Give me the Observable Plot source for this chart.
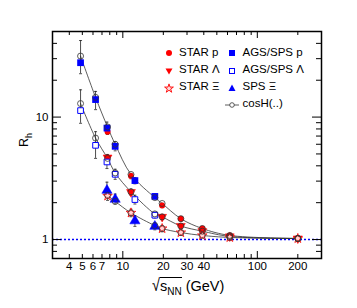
<!DOCTYPE html>
<html>
<head>
<meta charset="utf-8">
<script src="https://cdn.jsdelivr.net/npm/d3@7"></script>
<script src="https://cdn.jsdelivr.net/npm/@observablehq/plot@0.6"></script>
<style>
  body { margin: 0; background: #fff; font-family: "Liberation Sans", Arial, sans-serif; }
  #wrap { position: relative; width: 357px; height: 308px; }
  .lab { position: absolute; font-size: 11.5px; color: #000; white-space: nowrap; line-height: 1; }
  .sym { position: absolute; }
</style>
</head>
<body>
<div id="wrap"></div>
<script>
// ---- data ----
const starE = [7.7, 11.5, 19.6, 27, 39, 62.4, 200];
const starP = [7.6, 3.3, 1.90, 1.48, 1.23, 1.08, 1.02];
const starL = [4.67, 2.44, 1.53, 1.29, 1.17, 1.06, 1.02];
const starX = [2.27, 1.65, 1.23, 1.14, 1.08, 1.04, 1.02];
const starPErr = [0.05, 0.05, 0.04, 0.04, 0.03, 0.03, 0.02];
const starLErr = [0.06, 0.06, 0.05, 0.04, 0.04, 0.03, 0.02];
const starXErr = [0.08, 0.07, 0.06, 0.05, 0.04, 0.03, 0.02];

const agsE = [4.85, 6.27, 7.62, 8.77, 12.3, 17.3];
const agsP = [27.8, 13.9, 8.13, 5.77, 3.03, 2.25];
const agsPLo = [22.6, 11.5, 7.3, 5.3, 2.85, 2.15];
const agsPHi = [42.2, 16.2, 9.1, 6.3, 3.2, 2.35];
const agsL = [11.3, 5.88, 4.30, 3.41, 2.12, 1.58];
const agsLLo = [8.9, 4.6, 3.8, 3.1, 1.95, 1.5];
const agsLHi = [16.7, 7.6, 4.9, 3.75, 2.3, 1.67];
const spsXE = [7.62, 8.77, 12.3, 17.3];
const spsX = [2.52, 2.13, 1.42, 1.28];
const spsXLo = [2.23, 1.95, 1.28, 1.2];
const spsXHi = [2.94, 2.35, 1.56, 1.36];

const coshE = [4.85, 6.27, 7.7, 8.77, 11.5, 17.3, 19.6, 27, 39, 62.4, 200];
const coshP = [31.5, 14.5, 8.3, 6.0, 3.4, 2.2, 1.97, 1.48, 1.23, 1.08, 1.02];
const coshL = [12.9, 6.74, 4.6, 3.5, 2.45, 1.62, 1.53, 1.29, 1.17, 1.06, 1.02];
const coshXE = [7.7, 8.77, 11.5, 17.3, 19.6, 27, 39, 62.4, 200];
const coshX = [2.3, 2.05, 1.65, 1.3, 1.23, 1.14, 1.08, 1.04, 1.02];

const xTickLabels = [4, 5, 6, 7, 10, 20, 30, 40, 100, 200];
const xMajor = [10, 100];
const xMinor = [4, 5, 6, 7, 8, 9, 20, 30, 40, 50, 60, 70, 80, 90, 200];
const yTickLabels = [1, 10];
const yMajor = [1, 10];
const yMinor = [0.8, 0.9, 2, 3, 4, 5, 6, 7, 8, 9, 20, 30, 40];

// ---- build tables ----
const zip = (xs, ys, extra) => xs.map((x, i) => Object.assign({x, y: ys[i]}, extra ? extra(i) : {}));
const tStarP = zip(starE, starP, i => ({lo: starP[i]*(1-starPErr[i]), hi: starP[i]*(1+starPErr[i])}));
const tStarL = zip(starE, starL, i => ({lo: starL[i]*(1-starLErr[i]), hi: starL[i]*(1+starLErr[i])}));
const tStarX = zip(starE, starX, i => ({lo: starX[i]*(1-starXErr[i]), hi: starX[i]*(1+starXErr[i])}));
const tAgsP = zip(agsE, agsP, i => ({lo: agsPLo[i], hi: agsPHi[i]}));
const tAgsL = zip(agsE, agsL, i => ({lo: agsLLo[i], hi: agsLHi[i]}));
const tSpsX = zip(spsXE, spsX, i => ({lo: spsXLo[i], hi: spsXHi[i]}));
const tCoshP = zip(coshE, coshP);
const tCoshL = zip(coshE, coshL);
const tCoshX = zip(coshXE, coshX);
const allErr = [...tStarP, ...tStarL, ...tStarX, ...tAgsP, ...tAgsL, ...tSpsX];

const W = 357, H = 308, mL = 52, mR = 36, mT = 31, mB = 50;
const fw = W - mL - mR, fh = H - mT - mB;
const RED = "#ff0000", BLUE = "#0000ff";

const cap = { draw(ctx, size) { const r = Math.sqrt(size / Math.PI); ctx.moveTo(-r, 0); ctx.lineTo(r, 0); } };

const chart = Plot.plot({
  width: W, height: H,
  marginLeft: mL, marginRight: mR, marginTop: mT, marginBottom: mB,
  style: { fontFamily: "Liberation Sans, Arial, sans-serif", fontSize: "11.5px", background: "white", overflow: "visible" },
  x: { type: "log", domain: [3, 300], axis: null },
  y: { type: "log", domain: [0.7, 50], axis: null },
  marks: [
    Plot.ruleY([1], { stroke: BLUE, strokeWidth: 1.6, strokeDasharray: "2,2" }),
    // cosH curves
    Plot.line(tCoshP, { x: "x", y: "y", curve: "catmull-rom", stroke: "#333", strokeWidth: 0.8 }),
    Plot.line(tCoshL, { x: "x", y: "y", curve: "catmull-rom", stroke: "#333", strokeWidth: 0.8 }),
    Plot.line(tCoshX, { x: "x", y: "y", curve: "catmull-rom", stroke: "#333", strokeWidth: 0.8 }),
    // error bars
    Plot.ruleX(allErr, { x: "x", y1: "lo", y2: "hi", stroke: "#222", strokeWidth: 0.8 }),
    Plot.dot(allErr, { x: "x", y: "lo", symbol: cap, r: 1.5, stroke: "#222", strokeWidth: 0.8 }),
    Plot.dot(allErr, { x: "x", y: "hi", symbol: cap, r: 1.5, stroke: "#222", strokeWidth: 0.8 }),
    // STAR
    Plot.dot(tStarP, { x: "x", y: "y", r: 3, fill: RED }),
    Plot.dot(tStarL, { x: "x", y: "y", symbol: "triangle", rotate: 180, r: 3.3, fill: RED, stroke: RED, strokeWidth: 0.5 }),
    Plot.dot(tStarX, { x: "x", y: "y", symbol: "star", r: 3, fill: "#ffd6d6", stroke: RED, strokeWidth: 0.8 }),
    // AGS / SPS
    Plot.dot(tAgsP, { x: "x", y: "y", symbol: "square", r: 3.8, fill: BLUE }),
    Plot.dot(tAgsL, { x: "x", y: "y", symbol: "square", r: 3.2, fill: "white", stroke: BLUE, strokeWidth: 1 }),
    Plot.dot(tSpsX, { x: "x", y: "y", symbol: "triangle", r: 3.8, fill: BLUE, stroke: BLUE, strokeWidth: 0.5 }),
    // cosH points
    Plot.dot([...tCoshP, ...tCoshL, ...tCoshX], { x: "x", y: "y", r: 3, fill: "none", stroke: "#333", strokeWidth: 0.8 }),
    // frame + ticks
    Plot.frame({ stroke: "#000", strokeWidth: 1.5 }),
    Plot.tickY(yMajor, { y: d => d, insetRight: fw - 9, stroke: "#000" }),
    Plot.tickY(yMinor, { y: d => d, insetRight: fw - 5, stroke: "#000" }),
    Plot.tickY(yMajor, { y: d => d, insetLeft: fw - 9, stroke: "#000" }),
    Plot.tickY(yMinor, { y: d => d, insetLeft: fw - 5, stroke: "#000" }),
    Plot.tickX(xMajor, { x: d => d, insetTop: fh - 7, stroke: "#000" }),
    Plot.tickX(xMinor, { x: d => d, insetTop: fh - 4, stroke: "#000" }),
    Plot.tickX(xMajor, { x: d => d, insetBottom: fh - 7, stroke: "#000" }),
    Plot.tickX(xMinor, { x: d => d, insetBottom: fh - 4, stroke: "#000" }),
    Plot.text(xTickLabels, { x: d => d, text: d => String(d), frameAnchor: "bottom", lineAnchor: "top", dy: 3, fontSize: 11.5 }),
    Plot.text(yTickLabels, { y: d => d, text: d => String(d), frameAnchor: "left", textAnchor: "end", dx: -4, fontSize: 11.5 })
  ]
});
const wrap = document.getElementById("wrap");
wrap.appendChild(chart);

// ---- legend and titles (HTML overlay) ----
const legendCol1 = [
  { label: "STAR p", sym: "circle" },
  { label: "STAR \u039B", sym: "tri-down" },
  { label: "STAR \u039E", sym: "star" }
];
const legendCol2 = [
  { label: "AGS/SPS p", sym: "sq-fill" },
  { label: "AGS/SPS \u039B", sym: "sq-open" },
  { label: "SPS \u039E", sym: "tri-up" },
  { label: "cosH(..)", sym: "cosh" }
];
const symSvg = {
  "circle": `<svg width="10" height="10"><circle cx="5" cy="5" r="3" fill="${RED}"/></svg>`,
  "tri-down": `<svg width="10" height="10"><path d="M1.5,2.5 L8.5,2.5 L5,8.5Z" fill="${RED}"/></svg>`,
  "star": `<svg width="10" height="10"><path d="${d3.symbol(d3.symbolStar, 24)()}" transform="translate(5,5.5)" fill="#ffd6d6" stroke="${RED}" stroke-width="0.9"/></svg>`,
  "sq-fill": `<svg width="10" height="10"><rect x="2" y="2" width="6" height="6" fill="${BLUE}"/></svg>`,
  "sq-open": `<svg width="10" height="10"><rect x="2.5" y="2.5" width="5" height="5" fill="white" stroke="${BLUE}"/></svg>`,
  "tri-up": `<svg width="10" height="10"><path d="M1.5,8 L8.5,8 L5,1.5Z" fill="${BLUE}"/></svg>`,
  "cosh": `<svg width="14" height="10"><line x1="0" y1="5" x2="14" y2="5" stroke="#333" stroke-width="0.8"/><circle cx="7" cy="5" r="2.3" fill="white" stroke="#333" stroke-width="0.8"/></svg>`
};
const rowY = [53, 70.5, 87.5, 104.5];
function addEntry(e, i, symX, textX) {
  const s = document.createElement("div");
  s.className = "sym";
  s.innerHTML = symSvg[e.sym];
  const w = e.sym === "cosh" ? 14 : 10;
  s.style.left = (symX - w / 2) + "px";
  s.style.top = (rowY[i] - 5) + "px";
  s.style.lineHeight = "0";
  wrap.appendChild(s);
  const t = document.createElement("div");
  t.className = "lab";
  t.textContent = e.label;
  t.style.left = textX + "px";
  t.style.top = (rowY[i] - 6.5) + "px";
  wrap.appendChild(t);
}
legendCol1.forEach((e, i) => addEntry(e, i, 169, 179));
legendCol2.forEach((e, i) => addEntry(e, i, 231.5, 242.5));

const xt = document.createElement("div");
xt.className = "lab";
xt.style.fontSize = "14.5px";
xt.style.left = "152px";
xt.style.top = "279px";
xt.innerHTML = `<span style="display:inline-block;transform:scaleY(1.2);transform-origin:bottom">\u221A</span><span style="border-top:1px solid #000;padding-top:0px">s<sub style="font-size:10px">NN</sub></span> (GeV)`;
wrap.appendChild(xt);

const yt = document.createElement("div");
yt.className = "lab";
yt.style.fontSize = "12.5px";
yt.style.left = "26px";
yt.style.top = "140px";
yt.style.transform = "translate(-50%,-50%) rotate(-90deg)";
yt.innerHTML = `R<sub style="font-size:9px">h</sub>`;
wrap.appendChild(yt);
</script>
</body>
</html>
